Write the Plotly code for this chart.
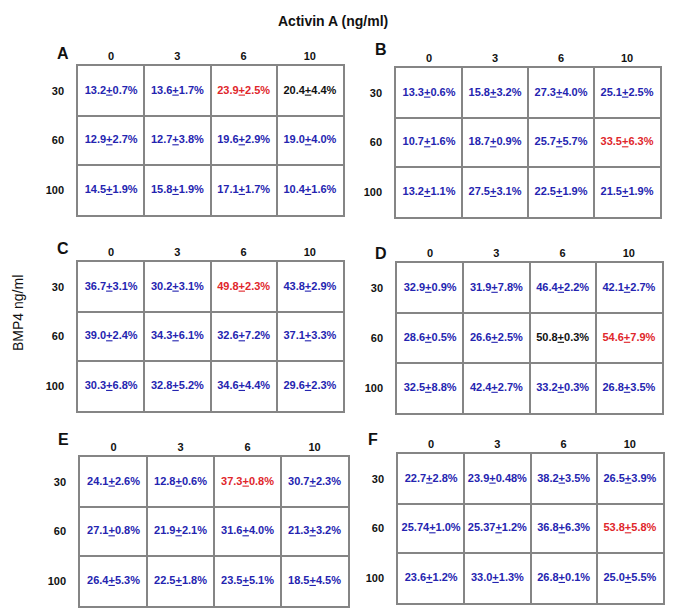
import plotly.graph_objects as go

# ---- data ----
activin_cols = ["0", "3", "6", "10"]
bmp4_rows = ["30", "60", "100"]
panel_names = ["A", "B", "C", "D", "E", "F"]

A_mean = [["13.2", "13.6", "23.9", "20.4"], ["12.9", "12.7", "19.6", "19.0"], ["14.5", "15.8", "17.1", "10.4"]]
A_sd = [["0.7", "1.7", "2.5", "4.4"], ["2.7", "3.8", "2.9", "4.0"], ["1.9", "1.9", "1.7", "1.6"]]
A_col = [["b", "b", "r", "k"], ["b", "b", "b", "b"], ["b", "b", "b", "b"]]

B_mean = [["13.3", "15.8", "27.3", "25.1"], ["10.7", "18.7", "25.7", "33.5"], ["13.2", "27.5", "22.5", "21.5"]]
B_sd = [["0.6", "3.2", "4.0", "2.5"], ["1.6", "0.9", "5.7", "6.3"], ["1.1", "3.1", "1.9", "1.9"]]
B_col = [["b", "b", "b", "b"], ["b", "b", "b", "r"], ["b", "b", "b", "b"]]

C_mean = [["36.7", "30.2", "49.8", "43.8"], ["39.0", "34.3", "32.6", "37.1"], ["30.3", "32.8", "34.6", "29.6"]]
C_sd = [["3.1", "3.1", "2.3", "2.9"], ["2.4", "6.1", "7.2", "3.3"], ["6.8", "5.2", "4.4", "2.3"]]
C_col = [["b", "b", "r", "b"], ["b", "b", "b", "b"], ["b", "b", "b", "b"]]

D_mean = [["32.9", "31.9", "46.4", "42.1"], ["28.6", "26.6", "50.8", "54.6"], ["32.5", "42.4", "33.2", "26.8"]]
D_sd = [["0.9", "7.8", "2.2", "2.7"], ["0.5", "2.5", "0.3", "7.9"], ["8.8", "2.7", "0.3", "3.5"]]
D_col = [["b", "b", "b", "b"], ["b", "b", "k", "r"], ["b", "b", "b", "b"]]

E_mean = [["24.1", "12.8", "37.3", "30.7"], ["27.1", "21.9", "31.6", "21.3"], ["26.4", "22.5", "23.5", "18.5"]]
E_sd = [["2.6", "0.6", "0.8", "2.3"], ["0.8", "2.1", "4.0", "3.2"], ["5.3", "1.8", "5.1", "4.5"]]
E_col = [["b", "b", "r", "b"], ["b", "b", "b", "b"], ["b", "b", "b", "b"]]

F_mean = [["22.7", "23.9", "38.2", "26.5"], ["25.74", "25.37", "36.8", "53.8"], ["23.6", "33.0", "26.8", "25.0"]]
F_sd = [["2.8", "0.48", "3.5", "3.9"], ["1.0", "1.2", "6.3", "5.8"], ["1.2", "1.3", "0.1", "5.5"]]
F_col = [["b", "b", "b", "b"], ["b", "b", "b", "r"], ["b", "b", "b", "b"]]

means = [A_mean, B_mean, C_mean, D_mean, E_mean, F_mean]
sds = [A_sd, B_sd, C_sd, D_sd, E_sd, F_sd]
cols = [A_col, B_col, C_col, D_col, E_col, F_col]

# ---- layout / style ----
W, H = 700, 615
# pixel boxes of each table: (left, right, top, bottom)
boxes = [(78, 343, 66, 215), (396, 660, 68, 217),
         (78, 343, 262, 411), (397, 662, 263, 413),
         (80, 348, 457, 606), (398, 663, 454, 603)]
letter_pos = [(63, 54), (381, 49), (63, 248), (381, 253), (63, 439), (373, 439)]
color_map = {"b": "#2424b0", "r": "#e0262b", "k": "#111111"}
FONT = "Liberation Sans, Arial, sans-serif"
GRID = "#858585"

fig = go.Figure()
layout = dict(width=W, height=H, margin=dict(l=0, r=0, t=0, b=0),
              paper_bgcolor="white", plot_bgcolor="white", showlegend=False)
annotations = []

for i in range(6):
    xa = "x" if i == 0 else f"x{i+1}"
    ya = "y" if i == 0 else f"y{i+1}"
    xk = "xaxis" if i == 0 else f"xaxis{i+1}"
    yk = "yaxis" if i == 0 else f"yaxis{i+1}"
    l, r, t, b = boxes[i]
    xs, ys, txt, tc = [], [], [], []
    for ri in range(len(bmp4_rows)):
        for ci in range(len(activin_cols)):
            xs.append(ci + 0.5)
            ys.append(ri + 0.5)
            txt.append(f"{means[i][ri][ci]}<u>+</u>{sds[i][ri][ci]}%")
            tc.append(color_map[cols[i][ri][ci]])
    fig.add_trace(go.Scatter(x=xs, y=ys, text=txt, mode="text", xaxis=xa, yaxis=ya,
                             textfont=dict(family=FONT, size=11, color=tc, weight="bold"),
                             hoverinfo="skip"))
    layout[xk] = dict(domain=[l / W, r / W], range=[0, 4], anchor=ya, side="top",
                      tickmode="array", tickvals=[0.5, 1.5, 2.5, 3.5], ticktext=activin_cols,
                      tickfont=dict(family=FONT, size=11, color="#111", weight="bold"),
                      ticks="", showgrid=False, zeroline=False, ticklabelstandoff=0,
                      showline=True, mirror=True, linecolor=GRID, linewidth=1.5,
                      minor=dict(tickmode="linear", tick0=0, dtick=1, showgrid=True,
                                 gridcolor=GRID, gridwidth=1.5, ticks=""),
                      fixedrange=True)
    layout[yk] = dict(domain=[1 - b / H, 1 - t / H], range=[3, 0], anchor=xa,
                      tickmode="array", tickvals=[0.5, 1.5, 2.5], ticktext=bmp4_rows,
                      tickfont=dict(family=FONT, size=11, color="#111", weight="bold"),
                      ticks="", showgrid=False, zeroline=False, ticklabelstandoff=10,
                      showline=True, mirror=True, linecolor=GRID, linewidth=1.5,
                      minor=dict(tickmode="linear", tick0=0, dtick=1, showgrid=True,
                                 gridcolor=GRID, gridwidth=1.5, ticks=""),
                      fixedrange=True)
    lx, ly = letter_pos[i]
    annotations.append(dict(text=f"<b>{panel_names[i]}</b>", x=lx / W, y=1 - ly / H,
                            xref="paper", yref="paper", showarrow=False,
                            xanchor="center", yanchor="middle",
                            font=dict(family=FONT, size=16, color="#111")))

annotations.append(dict(text="<b>Activin A (ng/ml)</b>", x=333 / W, y=1 - 21 / H,
                        xref="paper", yref="paper", showarrow=False,
                        xanchor="center", yanchor="middle",
                        font=dict(family=FONT, size=14, color="#111")))
annotations.append(dict(text="BMP4 ng/ml", x=18 / W, y=1 - 313 / H, textangle=-90,
                        xref="paper", yref="paper", showarrow=False,
                        xanchor="center", yanchor="middle",
                        font=dict(family=FONT, size=14, color="#111")))
layout["annotations"] = annotations
fig.update_layout(**layout)
fig.write_html("out.html", config={"displayModeBar": False},
               post_script="document.body.style.margin='0';document.body.style.overflow='hidden';")
